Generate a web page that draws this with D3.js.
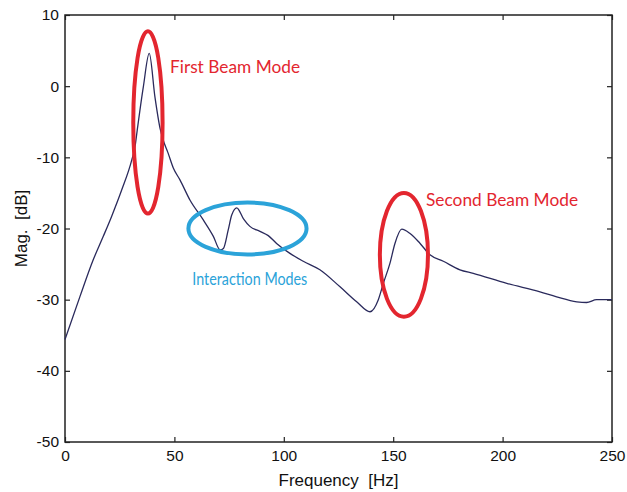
<!DOCTYPE html>
<html>
<head>
<meta charset="utf-8">
<script src="https://cdn.jsdelivr.net/npm/d3@7"></script>
<style>
  body { margin: 0; background: #fff; }
  .tick text { font-family: "Liberation Sans", Arial, sans-serif; font-size: 15.5px; fill: #111; }
  .label { font-family: "Liberation Sans", Arial, sans-serif; font-size: 17px; fill: #111; white-space: pre; }
  .note { font-family: Lato, "Open Sans", sans-serif; font-size: 16.5px; }
</style>
</head>
<body>
<svg></svg>
<script>
// frequency response
const freq = [0, 6.9, 12.9, 17.5, 21.3, 25.9, 30.5, 32, 33, 35.8, 38.5, 41.1, 43.5, 44.9, 47, 49.5,
  52.6, 57.1, 63.2, 67.8, 70.9, 72.4, 74.6, 76.2, 78.5, 81.5, 84.5, 89.1, 92.9, 96.7, 102.8,
  108.9, 116.5, 125.7, 133.3, 139.4, 143.2, 145.5, 148.5, 150.8, 153.9, 157.7, 162.3, 166.8,
  172.9, 180.5, 186.6, 201.9, 217.1, 224.7, 233.9, 238.4, 243, 250];
const mag = [-35.6, -29.5, -24.4, -21.1, -18.3, -14.6, -10.4, -8.5, -6.2, -0.1, 4.6, -1.5, -6.0, -7.6, -9.3, -11.5,
  -13.2, -16.0, -18.8, -21.1, -23.0, -22.8, -20.2, -18.1, -17.1, -18.6, -19.7, -20.4, -21.0, -22.1, -23.5,
  -24.6, -25.8, -28.2, -30.3, -31.7, -30.0, -27.7, -24.9, -22.1, -20.1, -20.7, -22.1, -23.7,
  -24.6, -25.8, -26.3, -27.7, -28.9, -29.6, -30.3, -30.4, -30.0, -30.0];

const xTicks = [0, 50, 100, 150, 200, 250];
const yTicks = [10, 0, -10, -20, -30, -40, -50];

// annotations: label, colour, ellipse centre/radii in data units, text anchor in data units
const noteLabels = ['First Beam Mode', 'Interaction Modes', 'Second Beam Mode'];
const noteColors = ['#e3262f', '#2ba3d9', '#e3262f'];
const noteWidths = [130, 115, 152];
const ellipseCenters = [[37.9, -5.1], [83.4, -20.0], [154.9, -23.7]];
const ellipseRadii = [[6.7, 12.8], [27, 3.65], [11, 8.7]];
const textPos = [[48, 1.9], [58.2, -28.0], [165, -16.8]];

const margin = { top: 15, right: 15, bottom: 50, left: 65 };
const width = 627 - margin.left - margin.right;
const height = 492 - margin.top - margin.bottom;

const svg = d3.select('svg')
  .attr('width', 627)
  .attr('height', 492)
  .append('g')
  .attr('transform', `translate(${margin.left}, ${margin.top})`);

const x = d3.scaleLinear().domain([0, 250]).range([0, width]);
const y = d3.scaleLinear().domain([-50, 10]).range([height, 0]);

// axes, MATLAB style: ticks pointing in, mirrored on top and right
const tickLen = 5;
const fmt = d => String(d);
svg.append('g')
  .attr('transform', `translate(0, ${height})`)
  .call(d3.axisBottom(x).tickValues(xTicks).tickFormat(fmt).tickSizeInner(-tickLen).tickSizeOuter(0).tickPadding(8));
svg.append('g')
  .call(d3.axisLeft(y).tickValues(yTicks).tickFormat(fmt).tickSizeInner(-tickLen).tickSizeOuter(0).tickPadding(6));
svg.append('g')
  .call(d3.axisTop(x).tickValues(xTicks).tickSizeInner(-tickLen).tickSizeOuter(0).tickFormat(''));
svg.append('g')
  .attr('transform', `translate(${width}, 0)`)
  .call(d3.axisRight(y).tickValues(yTicks).tickSizeInner(-tickLen).tickSizeOuter(0).tickFormat(''));

svg.selectAll('.domain').remove();
svg.selectAll('.tick line').attr('stroke', '#222').attr('stroke-width', 1.2);

svg.append('rect')
  .attr('width', width)
  .attr('height', height)
  .attr('fill', 'none')
  .attr('stroke', '#222')
  .attr('stroke-width', 1.5);

// curve
const points = freq.map((f, i) => [f, mag[i]]);
svg.append('path')
  .datum(points)
  .attr('fill', 'none')
  .attr('stroke', '#2a2a5c')
  .attr('stroke-width', 1.3)
  .attr('d', d3.line().x(d => x(d[0])).y(d => y(d[1])).curve(d3.curveMonotoneX));

// annotations
noteLabels.forEach((label, i) => {
  const [cf, cm] = ellipseCenters[i];
  const [rf, rm] = ellipseRadii[i];
  svg.append('ellipse')
    .attr('cx', x(cf))
    .attr('cy', y(cm))
    .attr('rx', x(rf) - x(0))
    .attr('ry', y(0) - y(rm))
    .attr('fill', 'none')
    .attr('stroke', noteColors[i])
    .attr('stroke-width', 4);
  svg.append('text')
    .attr('class', 'note')
    .attr('x', x(textPos[i][0]))
    .attr('y', y(textPos[i][1]))
    .attr('fill', noteColors[i])
    .attr('textLength', noteWidths[i])
    .attr('lengthAdjust', 'spacingAndGlyphs')
    .text(label);
});

// axis labels
svg.append('text')
  .attr('class', 'label')
  .attr('x', width / 2)
  .attr('y', height + 44)
  .style('text-anchor', 'middle')
  .text('Frequency  [Hz]');

svg.append('text')
  .attr('class', 'label')
  .attr('transform', 'rotate(-90)')
  .attr('x', -height / 2)
  .attr('y', -38)
  .style('text-anchor', 'middle')
  .text('Mag.  [dB]');
</script>
</body>
</html>
